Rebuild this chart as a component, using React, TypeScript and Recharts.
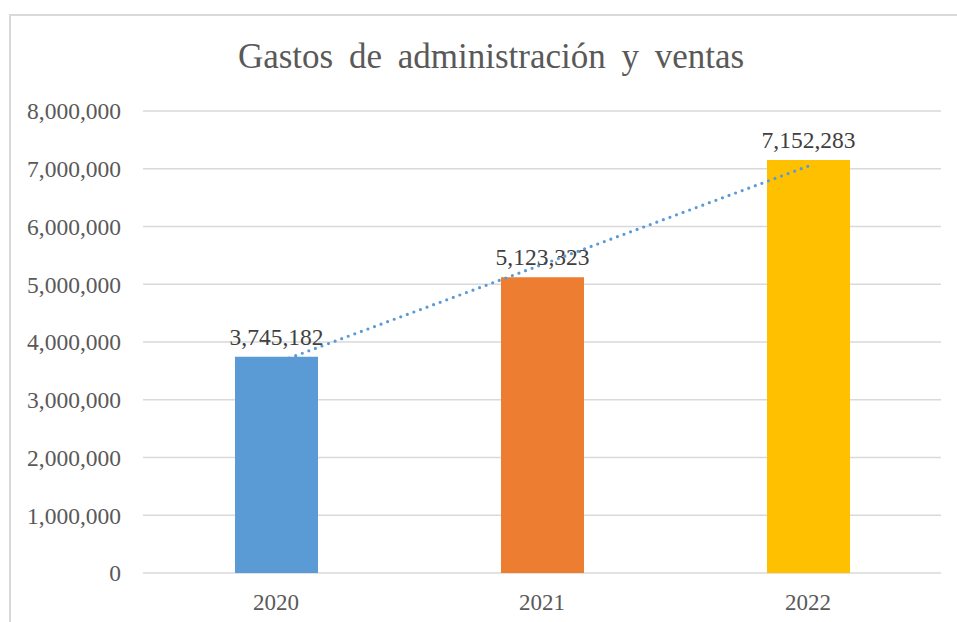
import { ComposedChart, Bar, Line, XAxis, YAxis, CartesianGrid, Cell, LabelList } from 'recharts';

const years = ['2020', '2021', '2022'];
const gastos = [3745182, 5123323, 7152283];
// tendencia lineal
const tendencia = [3636712, 5340263, 7043813];
const yTicks = [0, 1000000, 2000000, 3000000, 4000000, 5000000, 6000000, 7000000, 8000000];
const COLORS = ['#5B9BD5', '#ED7D31', '#FFC000'];

const data = years.map((year, i) => ({ year, gastos: gastos[i], tendencia: tendencia[i] }));

const fmt = (v: number) => v.toLocaleString('en-US');
const FONT = '"Liberation Serif", "Times New Roman", serif';

export default function App() {
  return (
    <div style={{ position: 'absolute', left: 0, top: 0, width: 957, height: 622, overflow: 'hidden', background: '#fff' }}>
      <div
        style={{
          position: 'absolute',
          left: 9,
          top: 14,
          width: 970,
          height: 640,
          border: '2px solid #d9d9d9',
        }}
      />
      <div
        style={{
          position: 'absolute',
          left: 0,
          width: 982,
          top: 36,
          textAlign: 'center',
          fontFamily: FONT,
          fontSize: 35,
          color: '#595959',
          wordSpacing: 7,
          lineHeight: '42px',
        }}
      >
        Gastos de administración y ventas
      </div>
      <div style={{ position: 'absolute', left: 0, top: 0 }}>
        <ComposedChart
          width={957}
          height={622}
          data={data}
          margin={{ top: 111, right: 16, bottom: 0, left: 0 }}
          barCategoryGap="34%"
        >
          <CartesianGrid vertical={false} stroke="#d9d9d9" strokeWidth={1.5} />
          <XAxis
            dataKey="year"
            height={49}
            axisLine={false}
            tickLine={false}
            tickMargin={15}
            tick={{ fill: '#595959', fontSize: 23, fontFamily: FONT }}
          />
          <YAxis
            width={143}
            domain={[0, 8000000]}
            ticks={yTicks}
            axisLine={false}
            tickLine={false}
            tickMargin={16}
            tickFormatter={fmt}
            tick={{ fill: '#595959', fontSize: 23.5, fontFamily: FONT }}
          />
          <Bar dataKey="gastos" barSize={83} isAnimationActive={false}>
            {data.map((_, i) => (
              <Cell key={i} fill={COLORS[i]} />
            ))}
            <LabelList
              dataKey="gastos"
              position="top"
              offset={12}
              formatter={(v: any) => fmt(Number(v))}
              style={{ fill: '#404040', fontSize: 23.5, fontFamily: FONT }}
            />
          </Bar>
          <Line
            dataKey="tendencia"
            stroke="#5B9BD5"
            strokeWidth={3.2}
            strokeDasharray="0 7"
            strokeLinecap="round"
            dot={false}
            activeDot={false}
            isAnimationActive={false}
          />
        </ComposedChart>
      </div>
    </div>
  );
}
